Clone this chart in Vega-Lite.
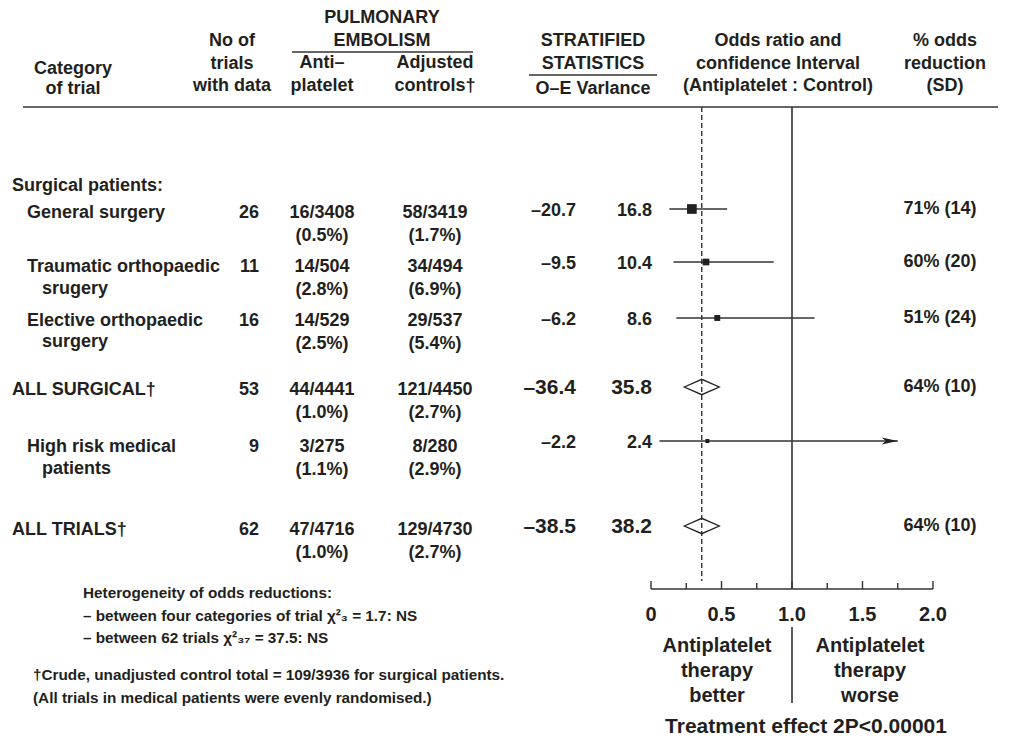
{
  "$schema": "https://vega.github.io/schema/vega-lite/v6.json",
  "width": 1024,
  "height": 743,
  "autosize": {"type": "none"},
  "padding": 0,
  "background": "white",
  "config": {
    "view": {"stroke": null},
    "text": {"font": "Liberation Sans", "fontWeight": "bold", "color": "#231f20", "fontSize": 18}
  },
  "datasets": {
    "cells": [
      {"r": 0, "c": 11, "t": "PULMONARY\nEMBOLISM"},
      {"r": 1, "c": 7, "t": "No of\ntrials\nwith data"},
      {"r": 4, "c": 5, "t": "Category"},
      {"r": 6, "c": 5, "t": "of trial"},
      {"r": 3, "c": 10, "t": "Anti–\nplatelet"},
      {"r": 3, "c": 12, "t": "Adjusted\ncontrols†"},
      {"r": 1, "c": 16, "t": "STRATIFIED\nSTATISTICS"},
      {"r": 6, "c": 16, "t": "O–E Varlance"},
      {"r": 1, "c": 20, "t": "Odds ratio and\nconfidence Interval\n(Antiplatelet : Control)"},
      {"r": 1, "c": 24, "t": "% odds\nreduction\n(SD)"},
      {"r": 8, "c": 0, "t": "Surgical patients:"},
      {"r": 10, "c": 2, "t": "General surgery"},
      {"r": 12, "c": 2, "t": "Traumatic orthopaedic"},
      {"r": 13, "c": 4, "t": "srugery"},
      {"r": 15, "c": 2, "t": "Elective orthopaedic"},
      {"r": 16, "c": 4, "t": "surgery"},
      {"r": 18, "c": 0, "t": "ALL SURGICAL†"},
      {"r": 20, "c": 2, "t": "High risk medical"},
      {"r": 21, "c": 4, "t": "patients"},
      {"r": 23, "c": 0, "t": "ALL TRIALS†"},
      {"r": 10, "c": 8, "t": "26"},
      {"r": 12, "c": 8, "t": "11"},
      {"r": 15, "c": 8, "t": "16"},
      {"r": 18, "c": 8, "t": "53"},
      {"r": 20, "c": 8, "t": "9"},
      {"r": 23, "c": 8, "t": "62"},
      {"r": 10, "c": 10, "t": "16/3408\n(0.5%)"},
      {"r": 12, "c": 10, "t": "14/504\n(2.8%)"},
      {"r": 15, "c": 10, "t": "14/529\n(2.5%)"},
      {"r": 18, "c": 10, "t": "44/4441\n(1.0%)"},
      {"r": 20, "c": 10, "t": "3/275\n(1.1%)"},
      {"r": 23, "c": 10, "t": "47/4716\n(1.0%)"},
      {"r": 10, "c": 12, "t": "58/3419\n(1.7%)"},
      {"r": 12, "c": 12, "t": "34/494\n(6.9%)"},
      {"r": 15, "c": 12, "t": "29/537\n(5.4%)"},
      {"r": 18, "c": 12, "t": "121/4450\n(2.7%)"},
      {"r": 20, "c": 12, "t": "8/280\n(2.9%)"},
      {"r": 23, "c": 12, "t": "129/4730\n(2.7%)"},
      {"r": 9, "c": 15, "t": "–20.7"},
      {"r": 11, "c": 15, "t": "–9.5"},
      {"r": 14, "c": 15, "t": "–6.2"},
      {"r": 17, "c": 15, "t": "–36.4"},
      {"r": 19, "c": 15, "t": "–2.2"},
      {"r": 22, "c": 15, "t": "–38.5"},
      {"r": 9, "c": 17, "t": "16.8"},
      {"r": 11, "c": 17, "t": "10.4"},
      {"r": 14, "c": 17, "t": "8.6"},
      {"r": 17, "c": 17, "t": "35.8"},
      {"r": 19, "c": 17, "t": "2.4"},
      {"r": 22, "c": 17, "t": "38.2"},
      {"r": 9, "c": 23, "t": "71% (14)"},
      {"r": 11, "c": 23, "t": "60% (20)"},
      {"r": 14, "c": 23, "t": "51% (24)"},
      {"r": 17, "c": 23, "t": "64% (10)"},
      {"r": 22, "c": 23, "t": "64% (10)"},
      {"r": 27, "c": 6, "t": "Heterogeneity of odds reductions:\n– between four categories of trial χ²₃ = 1.7: NS\n– between 62 trials χ²₃₇ = 37.5: NS"},
      {"r": 31, "c": 3, "t": "†Crude, unadjusted control total = 109/3936 for surgical patients.\n(All trials in medical patients were evenly randomised.)"},
      {"r": 30, "c": 19, "t": "Antiplatelet\ntherapy\nbetter"},
      {"r": 30, "c": 22, "t": "Antiplatelet\ntherapy\nworse"},
      {"r": 33, "c": 21, "t": "Treatment effect 2P<0.00001"}
    ],
    "hrules": [
      {"r": 7, "c": 1, "c2": 25},
      {"r": 2, "c": 9, "c2": 13},
      {"r": 5, "c": 14, "c2": 18}
    ],
    "est": [
      {"row": "General surgery", "r": 9, "or": 0.29, "lo": 0.13, "hi": 0.54, "var": 16.8, "kind": "trial", "arrow": false},
      {"row": "Traumatic orthopaedic surgery", "r": 11, "or": 0.39, "lo": 0.16, "hi": 0.87, "var": 10.4, "kind": "trial", "arrow": false},
      {"row": "Elective orthopaedic surgery", "r": 14, "or": 0.47, "lo": 0.18, "hi": 1.16, "var": 8.6, "kind": "trial", "arrow": false},
      {"row": "ALL SURGICAL", "r": 17, "or": 0.36, "lo": 0.25, "hi": 0.49, "var": 35.8, "kind": "total", "arrow": false},
      {"row": "High risk medical patients", "r": 19, "or": 0.40, "lo": 0.06, "hi": 1.75, "var": 2.4, "kind": "trial", "arrow": true},
      {"row": "ALL TRIALS", "r": 22, "or": 0.36, "lo": 0.25, "hi": 0.49, "var": 38.2, "kind": "total", "arrow": false}
    ],
    "refs": [
      {"line": "no effect", "v": 1, "r": 7, "r2": 26},
      {"line": "pooled", "v": 0.36, "r": 7, "r2": 24},
      {"line": "divider", "v": 1, "r": 29, "r2": 32}
    ],
    "axisline": [{"from": 0, "to": 2, "r": 26}],
    "ticks": [
      {"v": 0, "r": 24, "r2": 26},
      {"v": 0.25, "r": 25, "r2": 26},
      {"v": 0.5, "r": 24, "r2": 26},
      {"v": 0.75, "r": 25, "r2": 26},
      {"v": 1, "r": 24, "r2": 26},
      {"v": 1.25, "r": 25, "r2": 26},
      {"v": 1.5, "r": 24, "r2": 26},
      {"v": 1.75, "r": 25, "r2": 26},
      {"v": 2, "r": 24, "r2": 26}
    ],
    "ticklabels": [
      {"v": 0, "lab": "0", "r": 28},
      {"v": 0.5, "lab": "0.5", "r": 28},
      {"v": 1, "lab": "1.0", "r": 28},
      {"v": 1.5, "lab": "1.5", "r": 28},
      {"v": 2, "lab": "2.0", "r": 28}
    ]
  },
  "encoding": {
    "y": {
      "field": "r",
      "type": "quantitative",
      "axis": null,
      "scale": {
        "domain": [0,1,2,3,4,5,6,7,8,9,10,11,12,13,14,15,16,17,18,19,20,21,22,23,24,25,26,27,28,29,30,31,32,33],
        "range": [23,46,52,68,74,75,94,107,191,209,218,262,272,294,318,326,347,387,395,441,452,474,526,535,581,583,589,598,621,627,652,680,703,733],
        "nice": false,
        "zero": false
      }
    }
  },
  "resolve": {"scale": {"x": "independent"}},
  "layer": [
    {
      "encoding": {
        "x": {
          "field": "c",
          "type": "quantitative",
          "axis": null,
          "scale": {
            "domain": [0,1,2,3,4,5,6,7,8,9,10,11,12,13,14,15,16,17,18,19,20,21,22,23,24,25],
            "range": [12,23,27,33,42,73,83,232,259,292,322,382,435,473,529,576,593,652,657,717,778,806,870,940,945,998],
            "nice": false,
            "zero": false
          }
        }
      },
      "layer": [
        {
          "data": {"name": "hrules"},
          "mark": {"type": "rule", "color": "#333333", "strokeWidth": 1.6},
          "encoding": {"x2": {"field": "c2"}}
        },
        {
          "data": {"name": "cells"},
          "transform": [{"filter": {"field": "c", "oneOf": [0, 2, 4]}}],
          "mark": {"type": "text", "align": "left", "baseline": "alphabetic", "fontSize": 18},
          "encoding": {"text": {"field": "t"}}
        },
        {
          "data": {"name": "cells"},
          "transform": [{"filter": {"field": "c", "oneOf": [5, 7, 10, 11, 12, 16, 20, 24]}}],
          "mark": {"type": "text", "align": "center", "baseline": "alphabetic", "fontSize": 18, "lineBreak": "\n", "lineHeight": 22.5},
          "encoding": {"text": {"field": "t"}}
        },
        {
          "data": {"name": "cells"},
          "transform": [{"filter": {"field": "c", "oneOf": [8]}}],
          "mark": {"type": "text", "align": "right", "baseline": "alphabetic", "fontSize": 18},
          "encoding": {"text": {"field": "t"}}
        },
        {
          "data": {"name": "cells"},
          "transform": [{"filter": {"and": [{"field": "c", "oneOf": [15, 17]}, {"not": {"field": "r", "oneOf": [17, 22]}}]}}],
          "mark": {"type": "text", "align": "right", "baseline": "middle", "fontSize": 18, "dy": 2},
          "encoding": {"text": {"field": "t"}}
        },
        {
          "data": {"name": "cells"},
          "transform": [{"filter": {"and": [{"field": "c", "oneOf": [15, 17]}, {"field": "r", "oneOf": [17, 22]}]}}],
          "mark": {"type": "text", "align": "right", "baseline": "middle", "fontSize": 21, "dy": 1},
          "encoding": {"text": {"field": "t"}}
        },
        {
          "data": {"name": "cells"},
          "transform": [{"filter": {"field": "c", "oneOf": [23]}}],
          "mark": {"type": "text", "align": "center", "baseline": "middle", "fontSize": 18},
          "encoding": {"text": {"field": "t"}}
        },
        {
          "data": {"name": "cells"},
          "transform": [{"filter": {"field": "c", "oneOf": [3, 6]}}],
          "mark": {"type": "text", "align": "left", "baseline": "alphabetic", "font": "Liberation Sans Narrow, Arial Narrow, Liberation Sans", "fontSize": 15.3, "lineBreak": "\n", "lineHeight": 22.5},
          "encoding": {"text": {"field": "t"}}
        },
        {
          "data": {"name": "cells"},
          "transform": [{"filter": {"field": "c", "oneOf": [19, 22]}}],
          "mark": {"type": "text", "align": "center", "baseline": "alphabetic", "fontSize": 20, "lineBreak": "\n", "lineHeight": 25},
          "encoding": {"text": {"field": "t"}}
        },
        {
          "data": {"name": "cells"},
          "transform": [{"filter": {"field": "c", "oneOf": [21]}}],
          "mark": {"type": "text", "align": "center", "baseline": "alphabetic", "fontSize": 21},
          "encoding": {"text": {"field": "t"}}
        }
      ]
    },
    {
      "layer": [
        {
          "data": {"name": "refs"},
          "transform": [{"filter": "datum.line !== 'pooled'"}],
          "mark": {"type": "rule", "color": "#333333", "strokeWidth": 1.6},
          "encoding": {
            "x": {"field": "v", "type": "quantitative", "axis": null, "scale": {"domain": [0, 2], "range": [651, 933], "nice": false, "zero": false}},
            "y2": {"field": "r2"}
          }
        },
        {
          "data": {"name": "refs"},
          "transform": [{"filter": "datum.line === 'pooled'"}],
          "mark": {"type": "rule", "color": "#333333", "strokeWidth": 1.4, "strokeDash": [5, 3]},
          "encoding": {
            "x": {"field": "v", "type": "quantitative", "axis": null, "scale": {"domain": [0, 2], "range": [651, 933], "nice": false, "zero": false}},
            "y2": {"field": "r2"}
          }
        },
        {
          "data": {"name": "axisline"},
          "mark": {"type": "rule", "color": "#333333", "strokeWidth": 1.6},
          "encoding": {
            "x": {"field": "from", "type": "quantitative", "axis": null, "scale": {"domain": [0, 2], "range": [651, 933], "nice": false, "zero": false}},
            "x2": {"field": "to"}
          }
        },
        {
          "data": {"name": "ticks"},
          "mark": {"type": "rule", "color": "#333333", "strokeWidth": 1.4},
          "encoding": {
            "x": {"field": "v", "type": "quantitative", "axis": null, "scale": {"domain": [0, 2], "range": [651, 933], "nice": false, "zero": false}},
            "y2": {"field": "r2"}
          }
        },
        {
          "data": {"name": "ticklabels"},
          "mark": {"type": "text", "align": "center", "baseline": "alphabetic", "fontSize": 20},
          "encoding": {
            "x": {"field": "v", "type": "quantitative", "axis": null, "scale": {"domain": [0, 2], "range": [651, 933], "nice": false, "zero": false}},
            "text": {"field": "lab"}
          }
        },
        {
          "data": {"name": "est"},
          "transform": [{"filter": "datum.kind === 'trial'"}],
          "mark": {"type": "rule", "color": "#333333", "strokeWidth": 1.4},
          "encoding": {
            "x": {"field": "lo", "type": "quantitative", "axis": null, "scale": {"domain": [0, 2], "range": [651, 933], "nice": false, "zero": false}},
            "x2": {"field": "hi"}
          }
        },
        {
          "data": {"name": "est"},
          "transform": [{"filter": "datum.kind === 'trial'"}],
          "mark": {"type": "point", "shape": "square", "filled": true, "color": "#231f20", "opacity": 1},
          "encoding": {
            "x": {"field": "or", "type": "quantitative", "axis": null, "scale": {"domain": [0, 2], "range": [651, 933], "nice": false, "zero": false}},
            "size": {"field": "var", "type": "quantitative", "legend": null, "scale": {"type": "pow", "exponent": 2, "domain": [0, 16.8], "range": [14, 94], "zero": false}}
          }
        },
        {
          "data": {"name": "est"},
          "transform": [{"filter": "datum.kind === 'total'"}],
          "mark": {"type": "point", "shape": "M-1,0L0,-0.44L1,0L0,0.44Z", "filled": false, "size": 1225, "color": "#231f20", "strokeWidth": 1.3, "opacity": 1},
          "encoding": {
            "x": {"field": "or", "type": "quantitative", "axis": null, "scale": {"domain": [0, 2], "range": [651, 933], "nice": false, "zero": false}}
          }
        },
        {
          "data": {"name": "est"},
          "transform": [{"filter": "datum.arrow"}],
          "mark": {"type": "point", "shape": "M0,0L-2,-0.45L-1.5,0L-2,0.45Z", "filled": true, "size": 256, "color": "#231f20", "opacity": 1},
          "encoding": {
            "x": {"field": "hi", "type": "quantitative", "axis": null, "scale": {"domain": [0, 2], "range": [651, 933], "nice": false, "zero": false}}
          }
        }
      ]
    }
  ]
}
